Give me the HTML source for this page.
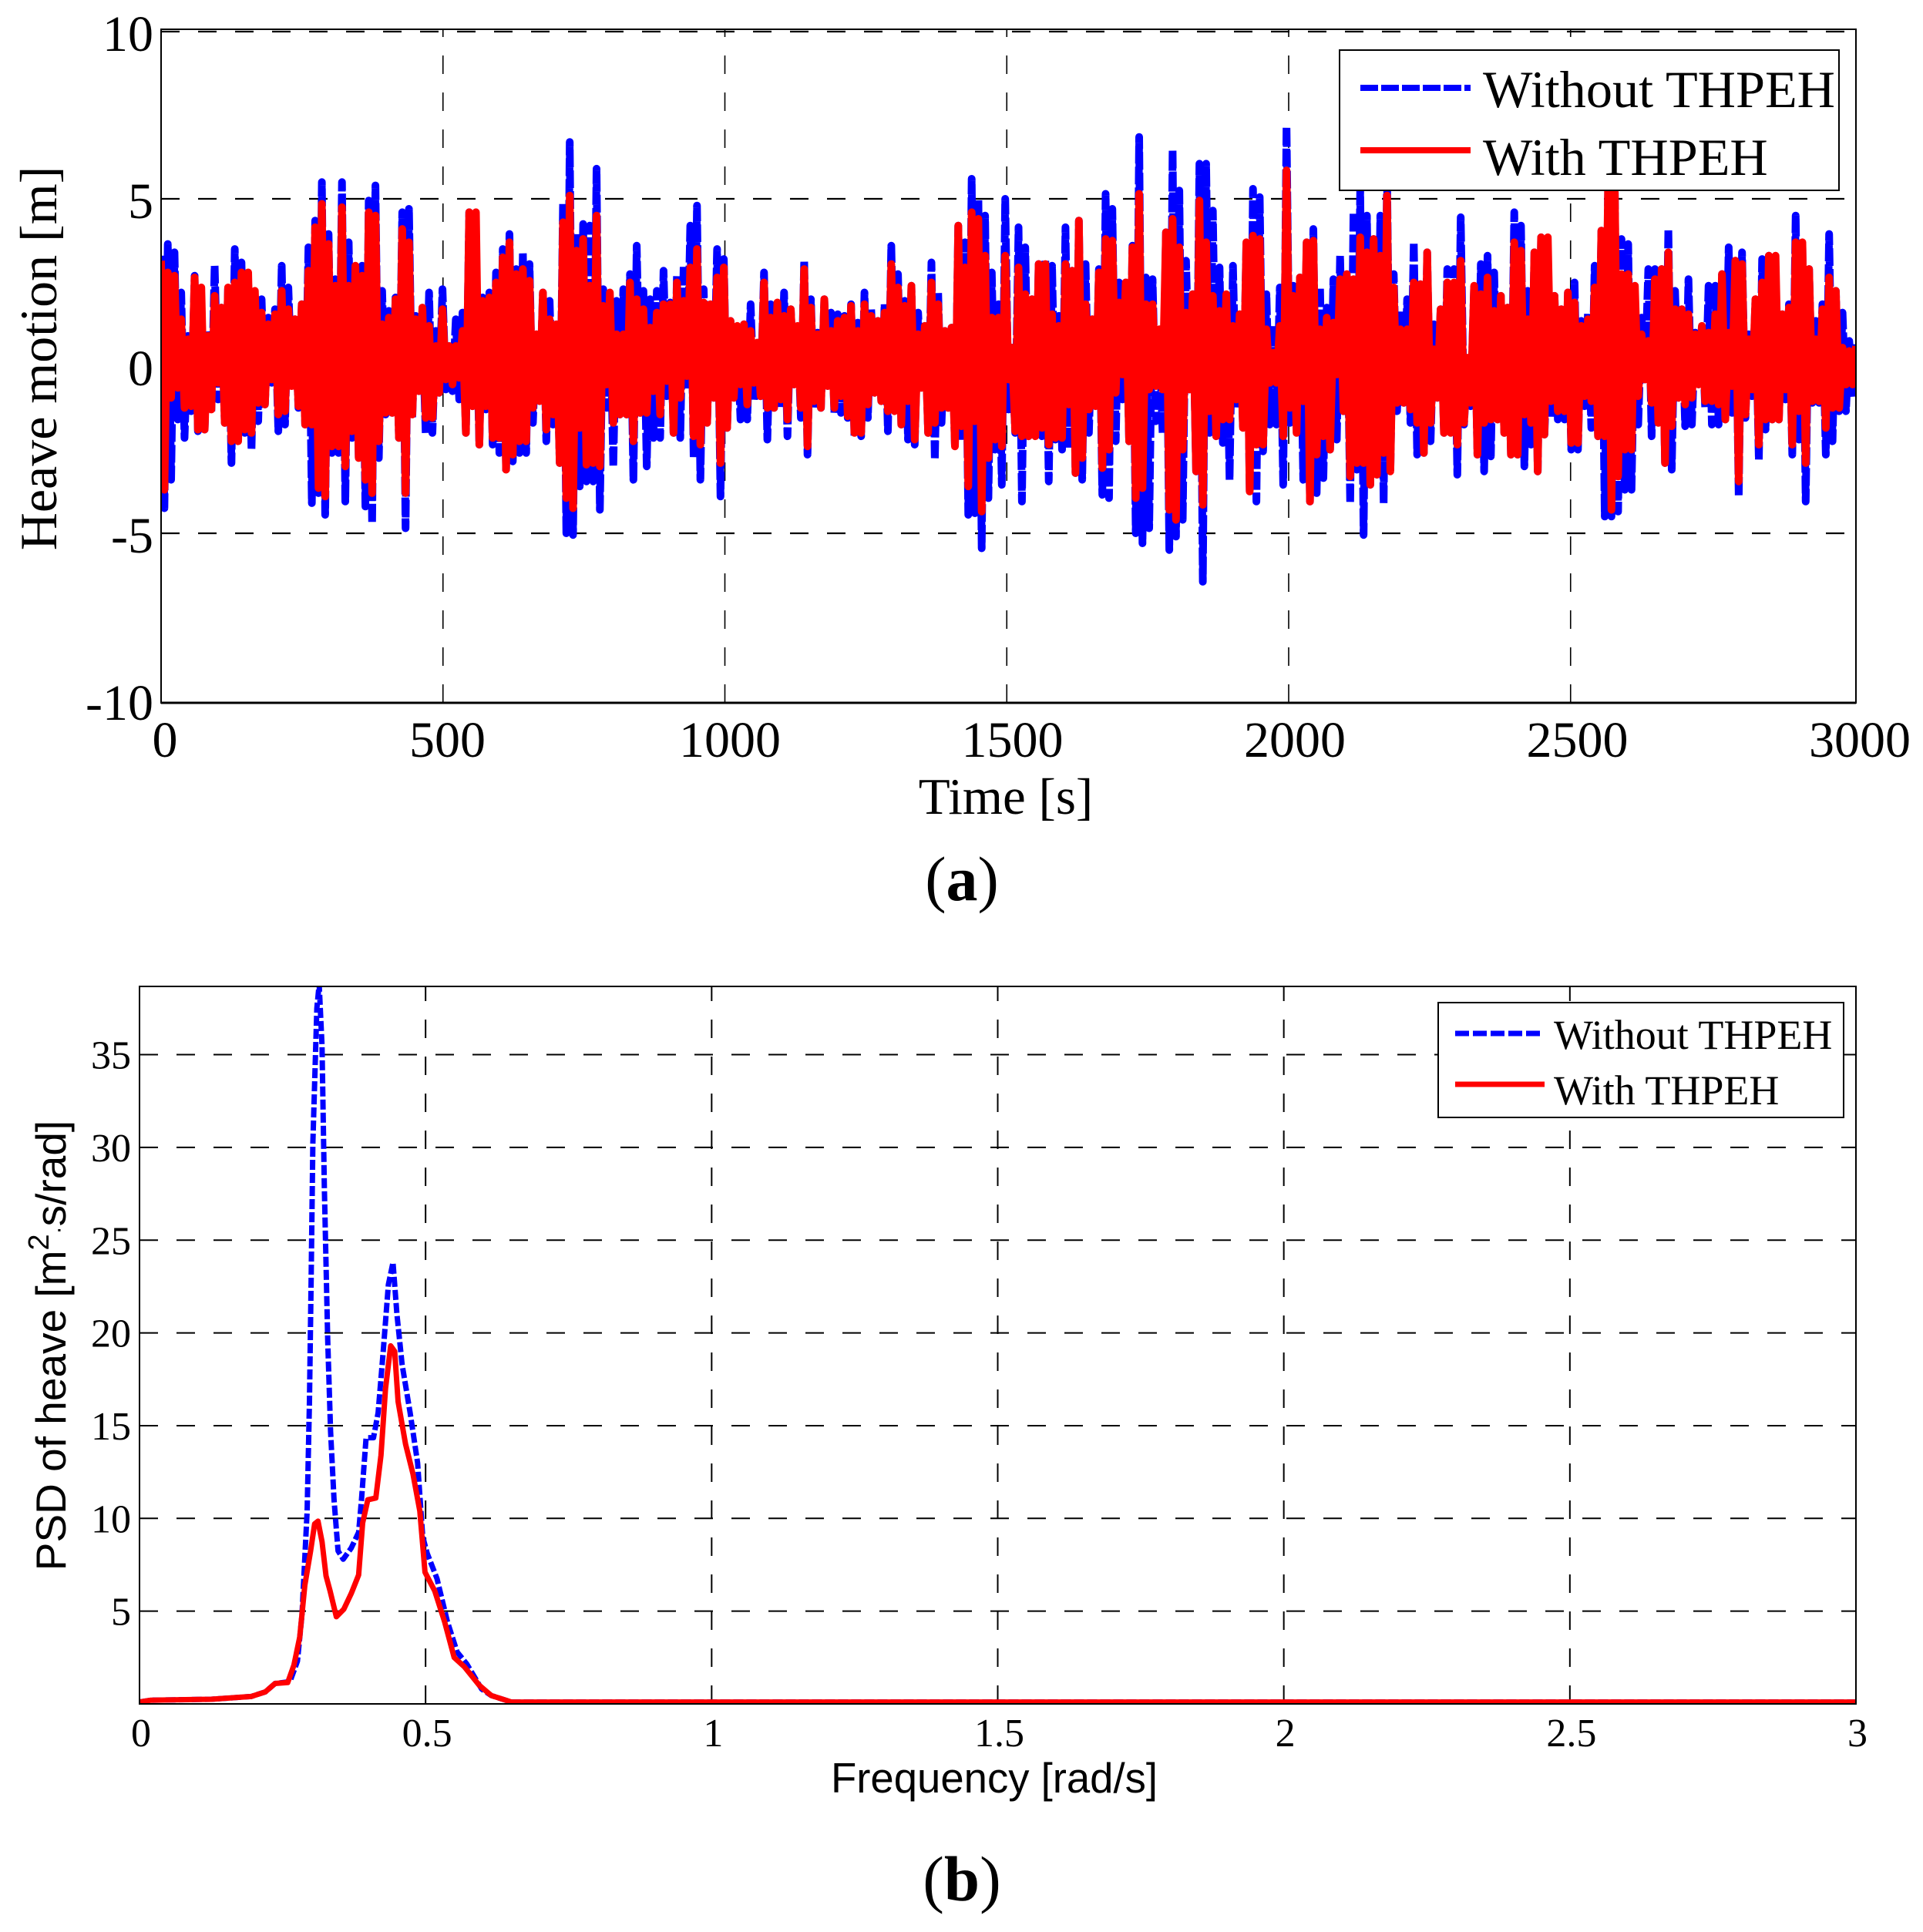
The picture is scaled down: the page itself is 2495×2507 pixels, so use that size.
<!DOCTYPE html>
<html>
<head>
<meta charset="utf-8">
<title>Heave motion and PSD of heave</title>
<style>
html,body{margin:0;padding:0;background:#fff;}
svg{display:block;}
.serif{font-family:"Liberation Serif",serif;fill:#000;}
.sans{font-family:"Liberation Sans",sans-serif;fill:#000;}
</style>
</head>
<body>
<svg id="fig" xmlns="http://www.w3.org/2000/svg" width="2495" height="2507" viewBox="0 0 2495 2507">
  <defs>
    <clipPath id="clipA"><rect x="209" y="38" width="2199" height="874"/></clipPath>
    <clipPath id="clipB"><rect x="181" y="1280" width="2227" height="931"/></clipPath>
  </defs>
  <rect width="2495" height="2507" fill="#fff"/>

  <g id="panelA">
    <g id="gridA"></g>
    <g id="seriesA" clip-path="url(#clipA)"></g>
    <rect x="209" y="38" width="2199" height="874" fill="none" stroke="#000" stroke-width="2"/>
    <line x1="209" y1="912" x2="2408" y2="912" stroke="#000" stroke-width="3"/>
    <g id="ticksA"></g>
    <text class="serif" font-size="68" transform="translate(73,465) rotate(-90)" text-anchor="middle">Heave motion [m]</text>
    <text class="serif" font-size="67" x="1305" y="1056" text-anchor="middle">Time [s]</text>
    <g>
      <rect x="1738" y="65" width="648" height="182" fill="#fff" stroke="#000" stroke-width="2"/>
      <line x1="1765" y1="114" x2="1908" y2="114" stroke="#0000ff" stroke-width="8" stroke-dasharray="23 4"/>
      <text class="serif" font-size="68.3" x="1924" y="139">Without THPEH</text>
      <line x1="1765" y1="195" x2="1908" y2="195" stroke="#ff0000" stroke-width="8"/>
      <text class="serif" font-size="68.3" x="1924" y="227">With THPEH</text>
    </g>
    <text class="serif" font-size="82" x="1248" y="1168" text-anchor="middle">(<tspan font-weight="bold">a</tspan>)</text>
  </g>

  <g id="panelB">
    <g id="gridB"></g>
    <g id="seriesB" clip-path="url(#clipB)"></g>
    <rect x="181" y="1280" width="2227" height="931" fill="none" stroke="#000" stroke-width="2"/>
    <g id="ticksB"></g>
    <text class="sans" font-size="55" transform="translate(85,1746) rotate(-90)" text-anchor="middle">PSD of heave [m<tspan dy="-22" font-size="38">2</tspan><tspan dy="22" font-size="30">·</tspan><tspan>s/rad]</tspan></text>
    <text class="sans" font-size="54.5" x="1290" y="2326" text-anchor="middle">Frequency [rad/s]</text>
    <g>
      <rect x="1866" y="1301" width="526" height="149" fill="#fff" stroke="#000" stroke-width="2"/>
      <line x1="1888" y1="1341" x2="1998" y2="1341" stroke="#0000ff" stroke-width="7" stroke-dasharray="18 5"/>
      <text class="serif" font-size="54" x="2016" y="1361">Without THPEH</text>
      <line x1="1888" y1="1407" x2="2004" y2="1407" stroke="#ff0000" stroke-width="7"/>
      <text class="serif" font-size="54" x="2016" y="1433">With THPEH</text>
    </g>
    <text class="serif" font-size="83" x="1248" y="2466" text-anchor="middle">(<tspan font-weight="bold">b</tspan>)</text>
  </g>
</svg>

<script>
// Panel (a): heave motion extremes, in metres
const timeTicks = [0,500,1000,1500,2000,2500,3000];
const heaveTicks = [10,5,0,-5,-10];

const withoutPeaks = [
3.3,3.65,3.4,2.2,.9,2.7,1.95,1.05,3,1.75,2.35,3.5,3.1,2.55,2.1,2,1.45,1.7,3,2.35,1.4,1.85,3.55,4.35,5.5,3.95,2.6,5.5,3.7,2.9,3,4.95,5.4,2.25,1.65,2.05,4.6,4.7,1.5,1.25,2.2,1.05,
2.3,.6,1.4,1.6,4.6,2.1,2.05,2.2,2.8,3.5,3.95,2.9,3.4,3.05,.95,2.2,1.95,1.25,4.85,6.7,3.95,4.25,4.2,5.9,2.3,2.05,1.95,2.3,2.75,3.6,2.25,2,2.25,2.85,1.9,2.7,3,4.2,4.8,2.3,1.65,3.5,
3.2,1.35,.75,1.25,1.85,.7,2.8,1.85,1.9,2.2,1.7,1.2,3.15,2,1,2,1.6,1.55,1.5,1.85,1.3,2.2,1.7,1.35,1.85,3.6,2.75,1.95,2.4,1.6,1.2,3.1,2.2,1.05,1.15,4.2,3.7,5.6,5,4.5,2.8,1.85,
5,.55,4.15,3.55,2,3.05,3.15,3,1.5,4.15,2.85,4.35,3.05,1.4,2.9,5.15,4.7,2.5,2.5,3.6,6.85,2.65,2.6,1.1,4,6.45,5.25,3.15,2.15,6.05,6.05,4.65,2.95,2.15,3,1.55,3.7,5.3,5.05,2.15,1.2,2.35,7.15,
2.4,2.65,3.7,4.1,2.35,1.75,2.6,3.3,2.75,4.6,5.25,4.5,3.8,4.5,5.7,2.75,1.65,2,3.7,2.45,3.4,1.25,1.7,2.9,2.9,4.45,.25,2.4,3.05,3.3,2.8,2.1,1.75,4.6,4.2,2.25,3.4,3.85,.65,2.1,1.7,2.2,
2.5,1.35,1.6,3,4.05,5.25,5.2,3.8,3.65,1.9,1.45,2.9,2.9,2.9,4.1,2.25,1.7,2.6,1,1.2,2.4,2.4,2.75,3.55,3.15,3.4,.95,2,3.2,3.3,1.6,1.55,1.85,4.5,3.6,2.9,1.35,1.85,3.95,2.25,1.6,.75,.65];

const withoutTroughs = [
-4.25,-3.4,-1.6,-2.15,-1.35,-1.95,-1.9,-1.4,-1,-1.7,-2.9,-2.2,-2,-2.5,-1.65,-1.15,-.5,-1.95,-1.75,-.6,-1.25,-1.75,-4.1,-3.8,-4.45,-2.6,-2.6,-4.05,-2.15,-2.75,-4.2,-4.7,-2.75,-1.45,-1.4,-2.15,-4.85,-1.55,-.75,-2,-2,-.8,
-.7,-.75,-1,-2,-1.2,-2.35,-1.3,-2.35,-2.6,-3.15,-2.85,-2.6,-2.6,-1.7,-1.1,-2.25,-1.75,-2.9,-5,-5.05,-3.6,-3.45,-3.45,-4.3,-1.25,-3,-1.45,-1.45,-3.4,-1.4,-3,-2.15,-2.15,-.9,-2,-2.15,-.7,-2.75,-3.4,-1.75,-.95,-3.9,
-1.85,-.95,-1.6,-1.6,-1.05,-.9,-2.2,-1.25,-1.25,-2.1,-.55,-1.55,-2.65,-1.25,-1.25,-.6,-1.4,-1.4,-1.55,-2.1,-2.1,-1.55,-.8,-1.05,-1.95,-1.25,-1.75,-2.2,-2.35,-.65,-2,-2.8,-1.7,-1.25,-2.4,-2.25,-4.45,-4.4,-5.45,-3.95,-2.5,-3.55,
-1.3,-2,-4.05,-2.1,-2.1,-2.1,-3.45,-2.2,-2.5,-2.45,-3.2,-3.4,-2,-1.2,-3.85,-3.95,-2.25,-1,-2.25,-5,-5.3,-4.85,-1.65,-2,-5.5,-5.1,-4.6,-.7,-3.15,-6.45,-2,-2.1,-2.3,-3.4,-1.25,-1.85,-3.75,-4.05,-2.55,-1.75,-1.75,-3.55,-1.7,
-1.8,-3.4,-4.05,-3.8,-3.35,-2.5,-2.2,-1.35,-4.1,-3.1,-5.05,-3.55,-3.25,-4.1,-3.15,-1.35,-1.1,-1.7,-2.65,-2.6,-2.25,-.95,-2,-1.45,-3.25,-1.75,-1.2,-2.65,-3.15,-2.7,-1.6,-2,-2.65,-2.65,-3,-2.35,-3.15,-2.05,-1.55,-1.6,-1.6,-2.5,
-2.5,-1.2,-1.85,-2.1,-4.5,-4.5,-4.35,-3.7,-3.7,-1.75,-.4,-2.1,-1.7,-2.9,-3.1,-.95,-1.8,-1.75,-.55,-1.25,-1.75,-1.75,-1.6,-1.4,-3.9,-1.55,-.9,-2.8,-1.9,-1.6,-1.6,-1,-2.65,-2.2,-4.05,-1.1,-1.1,-2.65,-2.25,-1.35,-1.35,-.95];

const withPeaks = [
3.15,2.8,2.7,1.4,.8,2.65,2.35,.9,2.1,1.75,2.35,2.5,2.8,2.8,2.25,1.6,1.25,1.55,2.25,1.7,1.4,1.85,2.85,4.15,4.85,3.65,2.4,4.75,2.4,3,2.7,4.6,4.5,1.25,1.45,2,4.1,3.7,1.4,1.75,1.2,.6,
1.7,.6,.6,1.05,4.6,4.6,1.95,2.05,2.5,3.25,3.7,2.75,2.9,2.55,.95,2.2,1.4,1.25,4.3,5.1,3.45,3.8,2.4,4.5,1.8,2.2,.95,.95,2.5,2,1.7,1.15,1.6,1.85,1.85,2.5,1.95,2.95,3.5,1.9,1.85,2.65,
2.95,1.35,1.2,1.25,1.05,.7,2.5,1.45,1.9,1.5,1.7,1.2,2.9,1.75,.95,2,1.05,1.35,1.45,1.8,1.05,1.85,1.5,1.35,1.6,3.05,2.35,1.8,2.4,.95,1.2,2.5,1.85,1.05,1.15,4.2,2.95,4.6,4.4,3.3,1.45,1.45,
3.3,.55,2.95,2.15,2,3.05,3.05,1.55,1.2,3.05,2.85,4.35,1.85,1.4,2.8,3.8,3.75,1.9,2.5,3.55,5.15,1.85,1.85,1.1,4,4.4,3.55,1.6,2.15,4.95,3.7,2.1,1.65,2.15,1.2,1.55,3.7,3.9,3.8,1.1,.4,1.2,5.85,
2.1,2.65,3.7,3.75,1.1,1.45,1.3,2.6,2.75,2.6,3.85,3.4,3.8,3.3,5.1,2.35,1.1,1.1,2.5,2.45,3.4,.5,1.7,2.5,2.5,3.15,.25,2.4,2.15,2.65,1.65,2.1,1.75,3.7,3.45,1.4,3.4,3.85,3.85,2.1,1.7,2.2,
1.9,1.2,1.4,2.35,4.05,5.25,5.2,2.75,2.75,2.4,.95,.75,2.6,2.9,3.4,1.7,1.7,1.55,.95,1.2,1,1.55,2.75,1,3.15,3.05,.8,2,2.5,3.3,3.3,1.55,1.75,3.7,3.7,2.9,.8,1.7,2.65,2.25,.55,.45,.6];

const withTroughs = [
-3.7,-.95,-.65,-1.25,-1.2,-1.9,-1.9,-1.3,-.5,-1.7,-2.25,-2.25,-1.9,-2,-1.1,-1.15,-.4,-1.45,-1.35,-.6,-1.2,-1.75,-1.75,-3.65,-3.9,-2.4,-2.4,-3,-1.95,-2.75,-3.4,-3.8,-2.25,-1.4,-1.4,-2.15,-3.8,-1.45,-.75,-1.55,-1.55,-.8,
-.4,-.55,-.35,-2,-1.2,-2.35,-1.2,-2.15,-2.15,-3.1,-2.65,-2.25,-2.25,-1.25,-1.05,-1.9,-1.45,-2.9,-3.95,-4.25,-1.85,-2.95,-2.9,-3,-.55,-1.7,-1.45,-1.45,-2.25,-1.4,-1.4,-.75,-1.45,-.45,-2,-.95,-.3,-2.1,-2.35,-1.7,-.95,-2.9,
-1.85,-.95,-.55,-1.15,-.5,-.9,-1.25,-1.25,-1,-1.6,-.55,-1.25,-2.4,-1.05,-1.25,-.6,-1.25,-.9,-1.5,-2,-2,-1.15,-.8,-1.05,-1.35,-1.35,-1.75,-1.05,-2.2,-.65,-2,-1.7,-1.25,-1.25,-2.4,-1.8,-3.6,-1.65,-4.35,-2.75,-2.2,-2.4,
-.4,-1.95,-2.1,-2.1,-2.1,-1.85,-2.35,-2.15,-2.15,-1.15,-3.2,-2.75,-1.3,-1.2,-3.05,-2.5,-.8,-.25,-2.25,-3.95,-3.65,-.7,-.6,-.7,-4.3,-4.6,-2.5,-.7,-3.15,-4.15,-1.35,-2.1,-1.6,-1.6,-1,-1.85,-3.75,-2.35,-2.35,-.5,-.5,-2.1,-1.25,
-2,-1.05,-4.05,-2.65,-2.1,-2.5,-.25,-1.35,-3.3,-2.9,-2.9,-3.55,-3.25,-2.6,-3.15,-1.1,-1.1,-1.3,-1.7,-2.6,-1.7,-.95,-2,-2,-2.35,-1.7,-1.1,-2.65,-1.7,-1.6,-1.6,-2,-2.65,-2.65,-1.45,-1.7,-3.15,-2.05,-1.05,-1.35,-1.35,-2.3,
-2.3,-.9,-1.05,-2.1,-2.1,-4.3,-3.3,-2.5,-2.5,-.9,-.4,-1.1,-1.7,-2.9,-1.8,-.95,-1.15,-.95,-.55,-1.05,-1.05,-1.15,-1.6,-.6,-3.45,-1.45,-.7,-2.35,-1.6,-1.6,-1.6,-.7,-2.35,-1.35,-2.9,-1.05,-1.05,-1.85,-1.25,-1.25,-.55,-.55];

// Panel (b): power spectral density
const freqTicks = [0,0.5,1,1.5,2,2.5,3];
const psdTicks = [5,10,15,20,25,30,35];
const freqWithout = [0,.02,.125,.195,.22,.237,.263,.276,.284,.293,.297,.3,.303,.31,.314,.319,.323,.329,.334,.34,.347,.356,.37,.383,.388,.396,.409,.417,.426,.435,.443,.45,.459,.473,.486,.495,.503,.52,.538,.555,.572,.598,.615,.65,1,2,3];
const psdWithout = [.1,.2,.25,.4,.65,1.1,1.2,2.3,4.8,10.4,16.3,22.9,30.2,37.5,38.8,35.5,27.9,19.6,14.7,11,8.25,7.8,8.4,9.25,11,14.35,14.35,15.7,19,22.6,23.8,21,18.3,15.7,13,9,8.1,6.75,4.45,2.8,2.15,.8,.45,.1,.1,.1,.1];
const freqWith = [0,.02,.125,.195,.22,.237,.259,.27,.28,.289,.299,.306,.312,.319,.326,.333,.344,.357,.37,.383,.39,.399,.413,.422,.43,.439,.446,.452,.465,.478,.49,.499,.516,.533,.55,.568,.594,.615,.65,1,2,3];
const psdWith = [.1,.2,.25,.4,.65,1.1,1.15,2.1,3.6,6.4,8.25,9.7,9.85,8.75,6.9,6.1,4.7,5.1,5.95,6.95,9.75,11,11.1,13.4,17,19.3,19,16.3,14,12.4,10.4,7.1,6.1,4.45,2.5,2,1,.45,.1,.1,.1,.1];

const NS = 'http://www.w3.org/2000/svg';
function xA(t){ return 209 + t*(2408-209)/3000; }
function xGridA(t){ return 209 + t*0.7315; }
function yA(v){ return 475 - v*43.4; }
function xB(f){ return 181 + f*(2408-181)/3; }
function yB(v){ return 2211 - v*24.07; }

function interleave(peaks, troughs){
  const out = [];
  for (let i = 0; i < peaks.length; i++){
    out.push(peaks[i]);
    if (i < troughs.length) out.push(troughs[i]);
  }
  return out;
}
function mk(tag, attrs, parent){
  const e = document.createElementNS(NS, tag);
  for (const k in attrs) e.setAttribute(k, attrs[k]);
  parent.appendChild(e);
  return e;
}
function heavePath(values){
  const dt = 3000/(values.length-1);
  return values.map((v,i)=>(i?'L':'M')+xA(i*dt).toFixed(1)+' '+yA(v).toFixed(1)).join('');
}
function psdPath(fs, vs){
  return fs.map((f,i)=>(i?'L':'M')+xB(f).toFixed(1)+' '+yB(vs[i]).toFixed(1)).join('');
}

const gridA = document.getElementById('gridA');
const gridB = document.getElementById('gridB');
const seriesA = document.getElementById('seriesA');
const seriesB = document.getElementById('seriesB');
const ticksA = document.getElementById('ticksA');
const ticksB = document.getElementById('ticksB');

// grid panel a
timeTicks.slice(1,-1).forEach(function(t){
  const l = mk('line',{x1:xGridA(t),y1:912,x2:xGridA(t),y2:38,stroke:'#000','stroke-width':1.6,'stroke-dasharray':'24 24'},gridA);
  
  
});
heaveTicks.forEach(function(v){
  if (v === 0 || v === -10) return;
  const l = mk('line',{x1:209,y1:yA(v),x2:2408,y2:yA(v),stroke:'#000','stroke-width':2.2,'stroke-dasharray':'24 24'},gridA);
  
  
});

// series panel a
const blueA = mk('path',{d:heavePath(interleave(withoutPeaks,withoutTroughs)),fill:'none',stroke:'#0000ff','stroke-width':10,'stroke-linejoin':'round','stroke-dasharray':'23 4'},seriesA);


const redA = mk('path',{d:heavePath(interleave(withPeaks,withTroughs)),fill:'none',stroke:'#ff0000','stroke-width':10,'stroke-linejoin':'round'},seriesA);



// tick labels panel a
timeTicks.forEach(function(t){
  const e = mk('text',{x:xA(t)+5,y:982,'text-anchor':'middle','font-size':66,'class':'serif'},ticksA);
  e.textContent = String(t);
  
  
});
heaveTicks.forEach(function(v){
  const e = mk('text',{x:199,y:yA(v)+25,'text-anchor':'end','font-size':66,'class':'serif'},ticksA);
  e.textContent = String(v);
  
  
});

// grid panel b
freqTicks.slice(1,-1).forEach(function(f){
  const l = mk('line',{x1:xB(f),y1:2211,x2:xB(f),y2:1280,stroke:'#000','stroke-width':2,'stroke-dasharray':'24 24'},gridB);
  
  
});
psdTicks.forEach(function(v){
  const l = mk('line',{x1:181,y1:yB(v),x2:2408,y2:yB(v),stroke:'#000','stroke-width':2,'stroke-dasharray':'24 24'},gridB);
  
  
});

// series panel b
const blueB = mk('path',{d:psdPath(freqWithout,psdWithout),fill:'none',stroke:'#0000ff','stroke-width':7,'stroke-linejoin':'round','stroke-dasharray':'13 4'},seriesB);


const redB = mk('path',{d:psdPath(freqWith,psdWith),fill:'none',stroke:'#ff0000','stroke-width':7,'stroke-linejoin':'round'},seriesB);



// tick labels panel b
freqTicks.forEach(function(f){
  const e = mk('text',{x:xB(f)+2,y:2266,'text-anchor':'middle','font-size':52,'class':'serif'},ticksB);
  e.textContent = String(f);
  
  
});
psdTicks.forEach(function(v){
  const e = mk('text',{x:170,y:yB(v)+18,'text-anchor':'end','font-size':52,'class':'serif'},ticksB);
  e.textContent = String(v);
  
  
});
</script>
</body>
</html>
